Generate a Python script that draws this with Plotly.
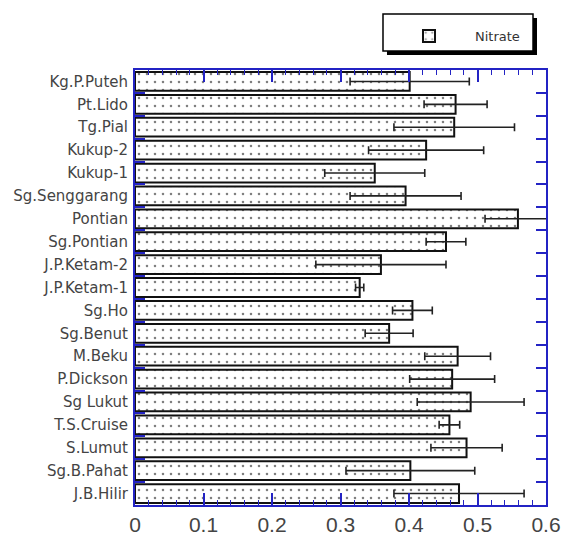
import plotly.graph_objects as go

sites = ["Kg.P.Puteh", "Pt.Lido", "Tg.Pial", "Kukup-2", "Kukup-1", "Sg.Senggarang",
         "Pontian", "Sg.Pontian", "J.P.Ketam-2", "J.P.Ketam-1", "Sg.Ho", "Sg.Benut",
         "M.Beku", "P.Dickson", "Sg Lukut", "T.S.Cruise", "S.Lumut", "Sg.B.Pahat", "J.B.Hilir"]
nitrate = [0.401, 0.468, 0.466, 0.425, 0.350, 0.395, 0.559, 0.454, 0.359, 0.328,
           0.405, 0.371, 0.471, 0.463, 0.490, 0.459, 0.484, 0.402, 0.473]
nitrate_err = [0.087, 0.046, 0.088, 0.084, 0.073, 0.081, 0.048, 0.029, 0.095, 0.006,
               0.029, 0.035, 0.048, 0.062, 0.078, 0.015, 0.052, 0.094, 0.095]
x_ticks = [0, 0.1, 0.2, 0.3, 0.4, 0.5, 0.6]

BLUE = "#2323c4"

fig = go.Figure()
fig.add_trace(go.Bar(
    y=sites, x=nitrate, orientation="h", name="Nitrate",
    marker=dict(color="white", line=dict(color="#111", width=2),
                pattern=dict(shape=".", fgcolor="black", bgcolor="white", size=8, solidity=0.08)),
    error_x=dict(type="data", array=nitrate_err, visible=True, color="#222", thickness=1.6, width=4),
))

# legend box with drop shadow
fig.add_shape(type="rect", xref="paper", yref="paper",
              x0=0.6131, x1=0.9781, y0=1.0345, y1=1.1195,
              fillcolor="black", line=dict(width=0), layer="above")
fig.add_shape(type="rect", xref="paper", yref="paper",
              x0=0.6034, x1=0.9684, y0=1.0437, y1=1.1287,
              fillcolor="white", line=dict(color="black", width=1.5), layer="above")

fig.update_layout(
    width=561, height=536,
    margin=dict(l=135, r=15, t=70, b=31, autoexpand=False),
    paper_bgcolor="white", plot_bgcolor="white",
    font=dict(family="DejaVu Sans, Arial, sans-serif", color="#333"),
    bargap=0.18,
    showlegend=True,
    legend=dict(xref="paper", yref="paper", x=0.6034, y=1.1126, xanchor="left", yanchor="top",
                bgcolor="rgba(0,0,0,0)", borderwidth=0,
                font=dict(size=13, color="#333"), itemwidth=82),
    xaxis=dict(range=[0, 0.6], tickvals=x_ticks, ticktext=[str(v) for v in x_ticks],
               ticks="inside", ticklen=12, tickwidth=1.5, tickcolor=BLUE,
               minor=dict(dtick=0.02, ticks="inside", ticklen=5, tickcolor=BLUE, tickwidth=1.2),
               showline=True, linecolor=BLUE, linewidth=2, mirror="allticks",
               showgrid=False, zeroline=False,
               tickfont=dict(family="Liberation Sans, Arial, sans-serif", size=21, color="#444")),
    yaxis=dict(type="category", categoryorder="array", categoryarray=sites,
               autorange="reversed", tickson="boundaries",
               ticks="inside", ticklen=10, tickwidth=1.5, tickcolor=BLUE,
               showline=True, linecolor=BLUE, linewidth=2, mirror="allticks",
               showgrid=False, zeroline=False, ticklabelstandoff=2,
               tickfont=dict(size=15, color="#444")),
)

fig.write_html("out.html", config={"displayModeBar": False},
               post_script="document.body.style.margin='0';document.body.style.overflow='hidden';")
